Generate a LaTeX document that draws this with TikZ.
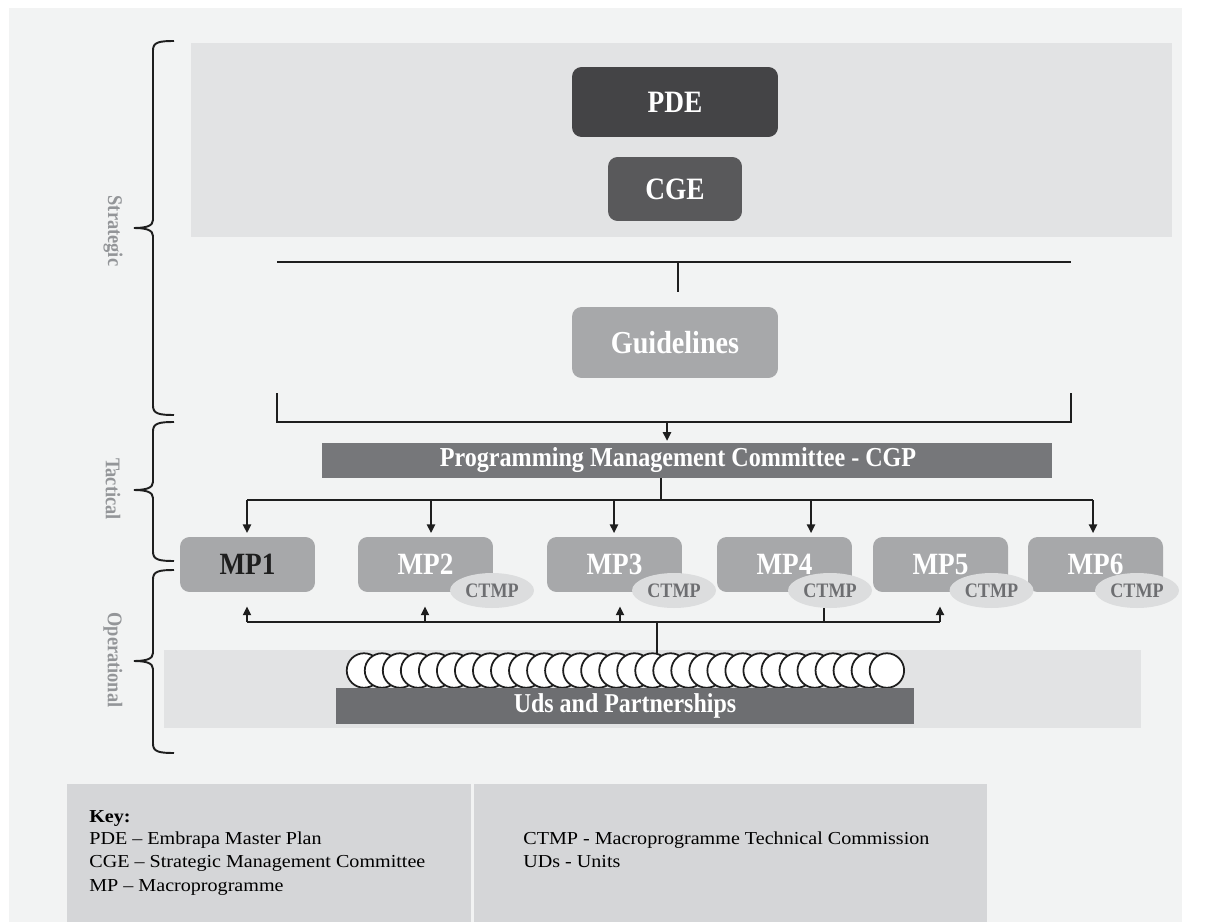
\documentclass[tikz,border=0pt]{standalone}
\usepackage{fontspec}
\setmainfont{Liberation Serif}[FakeStretch=0.88]
\newfontfamily\keyfont{Liberation Serif}[FakeStretch=1.1]
\usetikzlibrary{arrows.meta,shapes.geometric}
\definecolor{bgc}{HTML}{F2F3F3}
\definecolor{panelc}{HTML}{E2E3E4}
\definecolor{pdec}{HTML}{444446}
\definecolor{cgec}{HTML}{59595B}
\definecolor{mpc}{HTML}{A7A8AA}
\definecolor{cgpc}{HTML}{76777A}
\definecolor{udsc}{HTML}{6D6E71}
\definecolor{ellc}{HTML}{DCDDDE}
\definecolor{ctmptext}{HTML}{6D6E71}
\definecolor{keyc}{HTML}{D5D6D8}
\definecolor{lvlc}{HTML}{939598}
\definecolor{linec}{HTML}{1E1E1E}
\begin{document}
\begin{tikzpicture}[x=0.02cm,y=-0.02cm,
  panel/.style={fill=panelc, draw=none, inner sep=0pt},
  rbox/.style={draw=none, rounded corners=5.5pt, inner sep=0pt, font=\bfseries\color{white}},
  bar/.style={draw=none, inner sep=0pt, font=\bfseries\color{white}},
  ctmp/.style={ellipse, fill=ellc, draw=none, inner sep=0pt, minimum width=1.68cm, minimum height=0.70cm, font=\fontsize{11.7pt}{12pt}\selectfont\bfseries\color{ctmptext}},
  mpbox/.style={rbox, fill=mpc, minimum width=2.70cm, minimum height=1.10cm, font=\fontsize{17.6pt}{18pt}\selectfont\bfseries\color{white}},
  conn/.style={line width=1.1pt, draw=linec},
  arr/.style={conn, -{Triangle[length=5pt,width=4.6pt]}},
  brace/.style={line width=1.1pt, draw=linec},
  lvl/.style={rotate=-90, font=\fontsize{11.9pt}{12pt}\selectfont\bfseries\color{lvlc}},
  circ/.style={circle, draw=linec, line width=1pt, fill=white, minimum size=0.69cm, inner sep=0pt},
  keytxt/.style={anchor=base west, inner sep=0pt, font=\keyfont\fontsize{10.4pt}{12pt}\selectfont}]
\useasboundingbox (0,0) rectangle (1210,922);
\fill[white] (0,0) rectangle (1210,922);
\fill[bgc] (9,8) rectangle (1182,922);

% panels
\node[panel, minimum width=19.62cm, minimum height=3.88cm] (strat) at (681.5,140) {};
\node[panel, minimum width=19.54cm, minimum height=1.56cm] (oper) at (652.5,689) {};

% strategic boxes
\node[rbox, fill=pdec, minimum width=4.12cm, minimum height=1.40cm, font=\fontsize{17.7pt}{18pt}\selectfont\bfseries\color{white}] (pde) at (675,102) {PDE};
\node[rbox, fill=cgec, minimum width=2.68cm, minimum height=1.28cm, font=\fontsize{17.7pt}{18pt}\selectfont\bfseries\color{white}] (cge) at (675,189) {CGE};

% top line
\coordinate (hl) at (277,262);
\coordinate (hr) at (1071,262);
\coordinate (hm) at (678,262);
\coordinate (hm2) at (678,292);
\draw[conn] (hl) -- (hr);
\draw[conn] (hm) -- (hm2);

\node[rbox, fill=mpc, minimum width=4.12cm, minimum height=1.42cm, font=\fontsize{18.2pt}{19pt}\selectfont\bfseries\color{white}] (guide) at (675,342.5) {Guidelines};

% bracket
\coordinate (bl1) at (277,393);
\coordinate (bl2) at (277,422);
\coordinate (br2) at (1071,422);
\coordinate (br1) at (1071,393);
\coordinate (ba) at (667,422);
\draw[conn] (bl1) -- (bl2) -- (br2) -- (br1);

\node[bar, fill=cgpc, minimum width=14.6cm, minimum height=0.70cm] (cgp) at (687,460.5) {};
\node[inner sep=0pt, font=\fontsize{15.6pt}{16pt}\selectfont\bfseries\color{white}] (cgpt) at (678,460.5) {Programming Management Committee - CGP};
\draw[arr] (ba) -- ([yshift=1pt]ba |- cgp.north);

% MP boxes
\node[mpbox, font=\fontsize{17.6pt}{18pt}\selectfont\bfseries\color{linec}] (mp1) at (247.5,564.5) {MP1};
\node[mpbox] (mp2) at (425.5,564.5) {MP2};
\node[mpbox] (mp3) at (614.5,564.5) {MP3};
\node[mpbox] (mp4) at (784.5,564.5) {MP4};
\node[mpbox] (mp5) at (940.5,564.5) {MP5};
\node[mpbox] (mp6) at (1095.5,564.5) {MP6};

\node[ctmp] (ct2) at (492,590.5) {CTMP};
\node[ctmp] (ct3) at (674,590.5) {CTMP};
\node[ctmp] (ct4) at (830,590.5) {CTMP};
\node[ctmp] (ct5) at (991.5,590.5) {CTMP};
\node[ctmp] (ct6) at (1137,590.5) {CTMP};

% distribution from CGP
\coordinate (d0) at (661,500);
\coordinate (dl) at (247,500);
\coordinate (dr) at (1093,500);
\coordinate (t1) at (247,500);
\coordinate (t2) at (431,500);
\coordinate (t3) at (614,500);
\coordinate (t4) at (811,500);
\coordinate (t6) at (1093,500);
\draw[conn] (cgp.south -| d0) -- (d0);
\draw[conn] (dl) -- (dr);
\foreach \t/\m in {t1/mp1,t2/mp2,t3/mp3,t4/mp4,t6/mp6}
  \draw[arr] (\t) -- ([yshift=2pt]\t |- \m.north);

% lower connections
\coordinate (ll) at (247,622);
\coordinate (lr) at (940,622);
\coordinate (u1) at (247,622);
\coordinate (u2) at (425,622);
\coordinate (u3) at (620,622);
\coordinate (u5) at (940,622);
\coordinate (c4) at (824,622);
\coordinate (lm) at (657,622);
\coordinate (lm2) at (657,653);
\draw[conn] (ll) -- (lr);
\foreach \u in {u1,u2,u3,u5}
  \draw[arr] (\u) -- ([yshift=-8pt]\u |- mp1.south);
\draw[conn] (ct4.south -| c4) -- (c4);
\draw[conn] (lm) -- (lm2);

% units circles
\foreach \i in {0,...,29}
  \node[circ] (u\i) at ({364+\i*18.03},670.5) {};

\node[bar, fill=udsc, minimum width=11.56cm, minimum height=0.72cm, font=\fontsize{15.5pt}{16pt}\selectfont\bfseries\color{white}] (uds) at (625,706) {Uds and Partnerships};

% braces
\draw[brace] (174,41) .. controls (160,41) and (153,42) .. (153,50) -- (153,220) .. controls (153,226) and (146,228) .. (134,228) .. controls (146,228) and (153,230) .. (153,236) -- (153,406) .. controls (153,414) and (160,415) .. (174,415);
\draw[brace] (174,422) .. controls (160,422) and (153,423) .. (153,431) -- (153,482) .. controls (153,488) and (146,490) .. (134,490) .. controls (146,490) and (153,492) .. (153,498) -- (153,552) .. controls (153,560) and (160,561) .. (174,561);
\draw[brace] (174,570) .. controls (160,570) and (153,571) .. (153,579) -- (153,653) .. controls (153,659) and (146,661) .. (134,661) .. controls (146,661) and (153,663) .. (153,669) -- (153,744) .. controls (153,752) and (160,753) .. (174,753);
\node[lvl] (lstrat) at (113,231) {Strategic};
\node[lvl] (ltact) at (113,489) {Tactical};
\node[lvl] (loper) at (113,660) {Operational};

% key
\fill[keyc] (67,784) rectangle (471,922);
\fill[keyc] (474,784) rectangle (987,922);
\node[keytxt, font=\keyfont\fontsize{10.4pt}{12pt}\selectfont\bfseries] (k0) at (89,822) {Key:};
\node[keytxt] (k1) at (89,844) {PDE – Embrapa Master Plan};
\node[keytxt] (k2) at (89,867) {CGE – Strategic Management Committee};
\node[keytxt] (k3) at (89,891) {MP – Macroprogramme};
\node[keytxt] (k4) at (523,844) {CTMP - Macroprogramme Technical Commission};
\node[keytxt] (k5) at (523,867) {UDs - Units};
\end{tikzpicture}
\end{document}
